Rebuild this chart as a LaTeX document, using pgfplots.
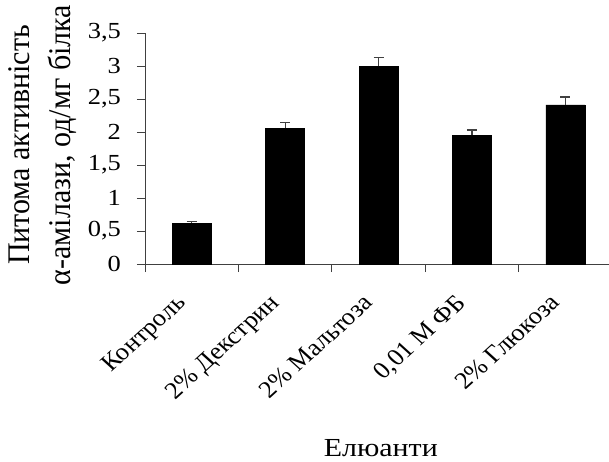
\documentclass[border=0pt]{standalone}
\usepackage{pgfplots}
\pgfplotsset{compat=1.18}
\usepackage{fontspec}
\setmainfont{Liberation Serif}
\begin{document}
\begin{tikzpicture}
\path[use as bounding box] (-145pt,-197pt) rectangle (464pt,264pt);
\begin{axis}[
  scale only axis, width=467pt, height=231pt,
  xmin=0.5, xmax=5.5, ymin=0, ymax=3.5,
  axis x line=bottom, axis y line=left,
  axis line style={-, line width=0.8pt, black!75},
  tick style={line width=0.8pt, black!75},
  major tick length=8pt, tick align=outside,
  ytick={0,0.5,1,1.5,2,2.5,3,3.5},
  yticklabel style={font=\fontsize{23}{27}\selectfont, xshift=-12pt, xscale=1.15},
  /pgf/number format/fixed,
  /pgf/number format/use comma,
  /pgf/number format/assume math mode=true,
  xtick={0.5,1.5,2.5,3.5,4.5,5.5},
  xticklabels={,,,,,},
  extra x ticks={1,2,3,4,5},
  extra x tick labels={Контроль,2\% Декстрин,2\% Мальтоза,{0,01 М ФБ},2\% Глюкоза},
  extra x tick style={major tick length=0pt,
    xticklabel style={font=\fontsize{24}{28}\selectfont,
      xshift=-17pt, yshift=-24pt, xscale=1.1, rotate=45, anchor=north east}},
  ylabel={Питома активність\\α-амілази, од/мг білка},
  ylabel style={font=\fontsize{30}{39}\selectfont, align=center, yscale=1.05,
    at={(axis description cs:-0.2195,0.515)}, anchor=center},
  xlabel={Елюанти},
  xlabel style={font=\fontsize{26}{30}\selectfont, xscale=1.15,
    at={(axis description cs:0.505,-0.835)}, anchor=base},
]
\addplot[ybar, bar width=39pt, fill=black, draw=black,
  error bars/.cd, y dir=plus, y explicit,
  error bar style={line width=1.2pt, black!75},
  error mark options={rotate=90, mark size=5pt, line width=1.2pt, black!75}]
  coordinates {
    (1,0.62) +- (0,0.02)
    (2,2.06) +- (0,0.08)
    (3,3.00) +- (0,0.13)
    (4,1.95) +- (0,0.08)
    (5,2.41) +- (0,0.12)
  };
\end{axis}
\end{tikzpicture}
\end{document}
